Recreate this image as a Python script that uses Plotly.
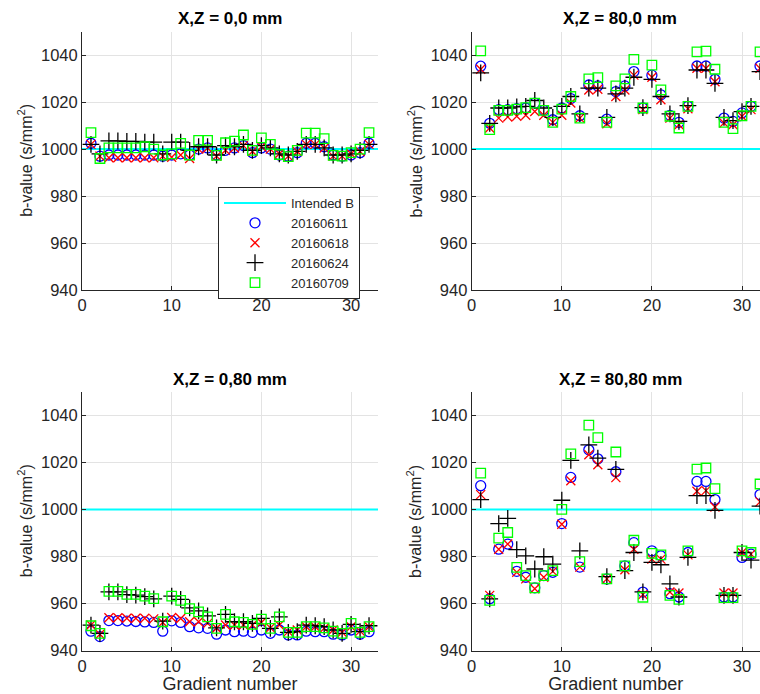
import plotly.graph_objects as go

gradient = list(range(1, 33))
intended_b = 1000
series_names = ["20160611", "20160618", "20160624", "20160709"]
panel_titles = ["X,Z = 0,0 mm", "X,Z = 80,0 mm", "X,Z = 0,80 mm", "X,Z = 80,80 mm"]
x_ticks = [0, 10, 20, 30]
y_ticks = [940, 960, 980, 1000, 1020, 1040]

# Panel X,Z = 0,0 mm
p00_611 = [1002.5, 997, 997.5, 997.5, 997.5, 997.5, 997.5, 997.5, 997, 997.5, 998, 997.5, 1000, 1000.5, 997.5, 999.5,
           1000.5, 1001.5, 998.5, 1000.5, 1000, 997.5, 997, 998.5, 1002.5, 1002.5, 1001, 997.5, 997, 997.5, 998.5, 1002.5]
p00_618 = [1002, 997, 996.3, 996.3, 996.3, 996.3, 996.3, 996.3, 997, 996.5, 997.5, 996, 1000, 1000.5, 997, 999.5,
           1000.5, 1001.5, 999, 1001, 1000, 998, 997, 999, 1002, 1002, 1000.5, 997, 997, 998, 999, 1002]
p00_624 = [1002, 998, 1003.5, 1003.5, 1003.3, 1003.3, 1003, 1003, 998, 1003, 1003, 999.5, 1001, 1001, 997.5, 1001.5,
           1001, 1002, 999.5, 1001.5, 1000.5, 998, 997.5, 999, 1002, 1002, 1000.5, 997.5, 997.5, 998, 999.5, 1002]
p00_709 = [1007, 996, 1000.5, 1000.5, 1000.5, 1000.5, 1001, 1000, 997.5, 998, 1002.4, 997.5, 1003.7, 1003.7, 997.3, 1002.7,
           1003.4, 1006, 999.5, 1004.8, 1002, 997.7, 996.8, 999.5, 1006.8, 1006.8, 1004.5, 997.3, 997, 998.5, 1000, 1007]

# Panel X,Z = 80,0 mm
p80_0_611 = [1035.3, 1011, 1016.8, 1016.8, 1017.2, 1017.5, 1019.6, 1016.5, 1012.5, 1017.5, 1021.5, 1014.2, 1027.3, 1026.9, 1012.8, 1024.5,
             1026.9, 1033, 1017.5, 1031.5, 1023.1, 1014.4, 1011.4, 1018.2, 1035.4, 1035.4, 1029.7, 1013.2, 1011.8, 1015.4, 1018.2, 1035.4]
p80_0_618 = [1034, 1009, 1013.2, 1013.7, 1014, 1014.4, 1016, 1014.4, 1011.4, 1014.4, 1019.6, 1013.2, 1025.2, 1025.5, 1010.8, 1022.4,
             1025.2, 1031.5, 1016.8, 1030.6, 1021, 1013.2, 1010.4, 1017.2, 1034.4, 1034.4, 1028.7, 1011.1, 1010.4, 1014, 1016.8, 1034.4]
p80_0_624 = [1032.5, 1011, 1017.5, 1017.5, 1018, 1018.2, 1020.7, 1017.5, 1013.5, 1018.2, 1022.4, 1015, 1026, 1026, 1013.5, 1023.5,
             1026, 1030.6, 1017.7, 1029.7, 1022.4, 1015, 1011.8, 1018.5, 1033.7, 1033.7, 1028, 1013.5, 1012.1, 1016, 1018.2, 1033]
p80_0_709 = [1041.8, 1008.3, 1016.5, 1016.5, 1017, 1017.7, 1019.6, 1016.5, 1011.4, 1017, 1022.4, 1013.2, 1029.9, 1030.4, 1011.4, 1026.9,
             1029.9, 1038.2, 1017.5, 1035.8, 1025.2, 1014, 1009, 1018.2, 1041.4, 1041.7, 1034, 1011.4, 1008.7, 1014.2, 1018.2, 1041.4]

# Panel X,Z = 0,80 mm
p0_80_611 = [948.3, 946, 952.8, 952.8, 952.6, 952.4, 952.2, 952, 948.3, 952.7, 952, 950.2, 949.7, 949.5, 947, 948.8,
             948.1, 948.3, 947.8, 948.8, 947.4, 948.8, 946.7, 946.7, 948.3, 948.1, 948.1, 947, 946.7, 948.8, 947, 948.1]
p0_80_618 = [950.9, 947, 954, 954, 953.8, 953.8, 953.8, 953.5, 952, 954.1, 953.7, 952.3, 952.3, 951.6, 949.5, 950.9,
             950.9, 950.9, 950.9, 952, 949.7, 950.9, 948.1, 948.8, 950.2, 950.2, 949.5, 948.8, 947.8, 950.2, 948.3, 950.2]
p0_80_624 = [950.9, 947.4, 965, 965, 963.8, 963.6, 963, 962, 952.6, 963.2, 961.8, 958.2, 956.9, 954.8, 949.7, 955.4,
             952.3, 952.3, 951.6, 953.7, 949.5, 954.4, 947.8, 948.1, 950.9, 950.6, 950.2, 948.8, 947.4, 951.2, 948.1, 950.6]
p0_80_709 = [950.6, 947.4, 965.2, 965.2, 963.9, 963.9, 963.2, 962.1, 952.3, 963.2, 961.4, 957.9, 956.5, 954.4, 949.5, 955.4,
             952.3, 952, 951.2, 953.4, 949.5, 954.4, 947.8, 947.8, 950.2, 950.2, 949.7, 948.3, 947.4, 951.6, 947.8, 950.2]

# Panel X,Z = 80,80 mm
p80_80_611 = [1010.1, 962.1, 983.1, 985.3, 973.7, 971.2, 966.7, 971.9, 973.3, 994, 1013.6, 975.5, 1025.3, 1021.5, 970.5, 1016,
              976, 985.9, 964.9, 982.4, 980.3, 964.2, 962.8, 981.7, 1011.9, 1011.9, 1004.2, 962.8, 962.8, 979.6, 981, 1006.3]
p80_80_618 = [1006.3, 963.5, 983.1, 985.3, 973.3, 970.5, 966.3, 971.2, 973.7, 993.7, 1012.2, 975.5, 1023.2, 1019, 970.5, 1013.5,
              974.4, 983.1, 963.8, 978.9, 978.9, 964.9, 964.5, 980.7, 1007.7, 1008, 1001, 964.5, 964.5, 981.7, 981, 1003.2]
p80_80_624 = [1004.2, 962, 994, 996.2, 982.9, 980.3, 974.7, 979.9, 976.8, 1003.9, 1020.8, 982.4, 1027.4, 1021.8, 971.5, 1017,
              974, 981.7, 965, 977.5, 976.5, 968.4, 962.8, 979.6, 1005.9, 1005.9, 999.6, 963.5, 963.5, 981.7, 978.5, 1001.4]
p80_80_709 = [1015.4, 961.4, 987.8, 990.2, 975.4, 971.9, 966.7, 971.9, 974, 1000, 1023.6, 977.8, 1035.8, 1030.5, 970.5, 1024.4,
              976, 986.9, 962.7, 981.3, 980.7, 963.5, 961.8, 982.4, 1017.1, 1017.6, 1008.8, 962.5, 962.5, 982.4, 981.7, 1010.8]

panels = [
    [p00_611, p00_618, p00_624, p00_709],
    [p80_0_611, p80_0_618, p80_0_624, p80_0_709],
    [p0_80_611, p0_80_618, p0_80_624, p0_80_709],
    [p80_80_611, p80_80_618, p80_80_624, p80_80_709],
]

W, H = 760, 694
FONT = "Liberation Sans, Arial, Helvetica, sans-serif"
AXC = "#262626"

markers = [
    dict(symbol="circle-open", size=10, color="#0000FF", line=dict(width=1.3, color="#0000FF")),
    dict(symbol="x-thin-open", size=9, color="#FF0000", line=dict(width=1.3, color="#FF0000")),
    dict(symbol="cross-thin-open", size=12, color="#000000", line=dict(width=1.3, color="#000000")),
    dict(symbol="square-open", size=9.5, color="#00FF00", line=dict(width=1.3, color="#00FF00")),
]

# pixel geometry of axes
x_dom_px = [(82, 378), (471.7, 760)]
y_dom_px = [(31.7, 290), (391.7, 650.7)]
x_ranges = [[0, 33], [0, (760 - 471.7) / 9.01]]

fig = go.Figure()
for i in range(4):
    r, c = divmod(i, 2)
    ax = "" if i == 0 else str(i + 1)
    xa, ya = "x" + ax, "y" + ax
    fig.add_trace(go.Scatter(x=[0, 33], y=[intended_b, intended_b], mode="lines",
                             line=dict(color="#00FFFF", width=2), name="Intended B",
                             showlegend=(i == 0), xaxis=xa, yaxis=ya))
    for k in range(4):
        fig.add_trace(go.Scatter(x=gradient, y=panels[i][k], mode="markers", marker=markers[k],
                                 name=series_names[k], showlegend=(i == 0), xaxis=xa, yaxis=ya))
    x0, x1 = x_dom_px[c]
    y0, y1 = y_dom_px[r]
    common = dict(showline=True, linecolor=AXC, linewidth=1, ticks="inside", ticklen=4, tickcolor=AXC,
                  showgrid=True, gridcolor="#e3e3e3", gridwidth=1, zeroline=False, automargin=False,
                  tickfont=dict(family=FONT, size=16.5, color=AXC), mirror=False)
    xaxis = dict(common, domain=[x0 / W, x1 / W], range=x_ranges[c], tickvals=x_ticks, anchor=ya)
    yaxis = dict(common, domain=[1 - y1 / H, 1 - y0 / H], range=[940, 1050], tickvals=y_ticks, anchor=xa)
    if r == 1:
        xaxis["title"] = dict(text="Gradient number", font=dict(family=FONT, size=18, color=AXC), standoff=6)
    fig.layout["xaxis" + ax] = xaxis
    fig.layout["yaxis" + ax] = yaxis
    # y-axis label
    fig.add_annotation(x=(x0 - 57) / W, y=1 - ((y0 + y1) / 2) / H, xref="paper", yref="paper",
                       text="b-value (s/mm<sup>2</sup>)", textangle=-90, showarrow=False,
                       xanchor="center", yanchor="middle", font=dict(family=FONT, size=16, color=AXC))
    cx = ((x0 + (769 if c == 1 else x1)) / 2) / W
    ty = 18 if r == 0 else 379
    fig.add_annotation(x=cx, y=1 - ty / H, xref="paper", yref="paper", text="<b>%s</b>" % panel_titles[i],
                       showarrow=False, xanchor="center", yanchor="middle",
                       font=dict(family=FONT, size=17, color="#000000"))

fig.update_layout(
    width=W, height=H, margin=dict(l=0, r=0, t=0, b=0, autoexpand=False),
    paper_bgcolor="white", plot_bgcolor="white",
    font=dict(family=FONT, color=AXC),
    legend=dict(x=218 / W, y=1 - 187 / H, xanchor="left", yanchor="top",
                bgcolor="white", bordercolor=AXC, borderwidth=1,
                font=dict(family=FONT, size=13, color=AXC), itemwidth=62, tracegroupgap=0),
)

fig.write_html("out.html", config={"displayModeBar": False},
               post_script="document.body.style.margin='0';document.body.style.overflow='hidden';")
